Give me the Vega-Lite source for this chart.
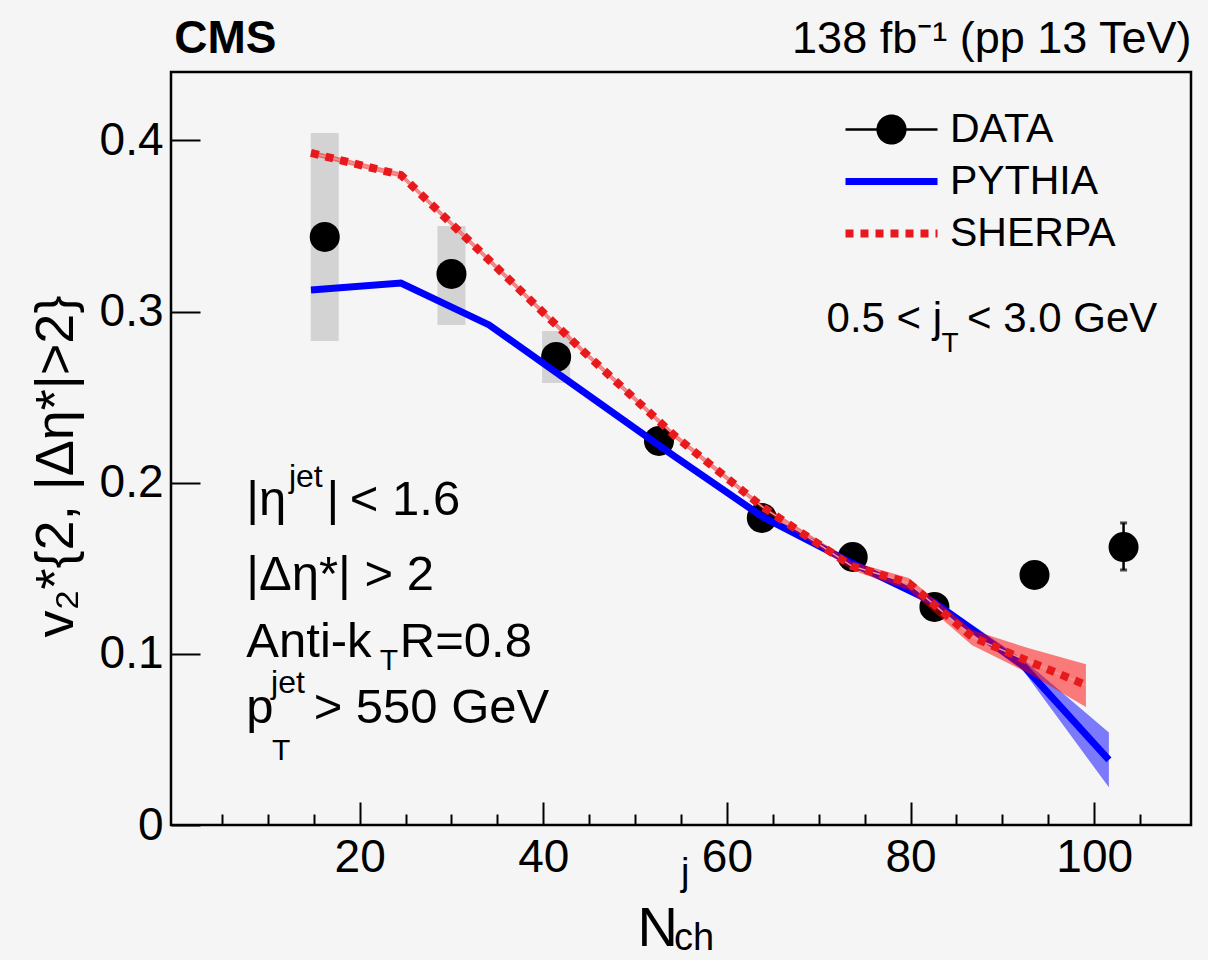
{
  "$schema": "https://vega.github.io/schema/vega-lite/v6.json",
  "width": 1020,
  "height": 753,
  "autosize": {"type": "none"},
  "padding": {"left": 171, "top": 72, "right": 17, "bottom": 135},
  "background": "#f5f5f5",
  "config": {
    "view": {"stroke": "black", "strokeWidth": 2.5, "fill": "#f5f5f5"},
    "font": "Liberation Sans",
    "axis": {"domain": false, "grid": false, "labelFont": "Liberation Sans", "labelColor": "black", "tickColor": "black", "tickWidth": 2, "labelFontSize": 46, "labelFlush": false, "labelOverlap": false, "labelBound": false}
  },
  "datasets": {
    "pts": [
      {"nch": 16.2, "v2": 0.3436, "sys_lo": 0.2828, "sys_hi": 0.4043},
      {"nch": 30.0, "v2": 0.3220, "sys_lo": 0.2922, "sys_hi": 0.3500},
      {"nch": 41.4, "v2": 0.2735, "sys_lo": 0.2583, "sys_hi": 0.2887},
      {"nch": 52.6, "v2": 0.2244, "sys_lo": null, "sys_hi": null},
      {"nch": 63.8, "v2": 0.1794, "sys_lo": null, "sys_hi": null},
      {"nch": 73.7, "v2": 0.1566, "sys_lo": null, "sys_hi": null},
      {"nch": 82.6, "v2": 0.1274, "sys_lo": null, "sys_hi": null},
      {"nch": 93.5, "v2": 0.1461, "sys_lo": null, "sys_hi": null},
      {"nch": 103.2, "v2": 0.1624, "sys_lo": null, "sys_hi": null}
    ],
    "stat": [
      {"nch": 103.2, "lo": 0.149, "hi": 0.1765}
    ],
    "pythia": [
      {"nch": 14.7, "v2": 0.3126, "lo": 0.3111, "hi": 0.3141},
      {"nch": 24.5, "v2": 0.3167, "lo": 0.3152, "hi": 0.3182},
      {"nch": 34.1, "v2": 0.2922, "lo": 0.2907, "hi": 0.2937},
      {"nch": 44.2, "v2": 0.2538, "lo": 0.2523, "hi": 0.2553},
      {"nch": 54.3, "v2": 0.2154, "lo": 0.2139, "hi": 0.2169},
      {"nch": 63.9, "v2": 0.1800, "lo": 0.1785, "hi": 0.1815},
      {"nch": 73.6, "v2": 0.1531, "lo": 0.1515, "hi": 0.1547},
      {"nch": 82.6, "v2": 0.1300, "lo": 0.1280, "hi": 0.1320},
      {"nch": 92.3, "v2": 0.0930, "lo": 0.0900, "hi": 0.0965},
      {"nch": 101.6, "v2": 0.0380, "lo": 0.0220, "hi": 0.0540}
    ],
    "sherpa": [
      {"nch": 14.7, "v2": 0.3927, "lo": 0.3912, "hi": 0.3942},
      {"nch": 24.5, "v2": 0.3798, "lo": 0.3783, "hi": 0.3813},
      {"nch": 34.1, "v2": 0.3301, "lo": 0.3286, "hi": 0.3316},
      {"nch": 44.2, "v2": 0.2776, "lo": 0.2761, "hi": 0.2791},
      {"nch": 54.3, "v2": 0.2275, "lo": 0.2260, "hi": 0.2290},
      {"nch": 63.9, "v2": 0.1858, "lo": 0.1843, "hi": 0.1873},
      {"nch": 73.6, "v2": 0.1513, "lo": 0.1490, "hi": 0.1540},
      {"nch": 79.8, "v2": 0.1414, "lo": 0.1373, "hi": 0.1443},
      {"nch": 86.7, "v2": 0.1099, "lo": 0.1050, "hi": 0.1140},
      {"nch": 92.8, "v2": 0.0958, "lo": 0.0888, "hi": 0.1034},
      {"nch": 99.1, "v2": 0.0818, "lo": 0.0690, "hi": 0.0940}
    ]
  },
  "layer": [
    {
      "data": {"name": "pts"},
      "mark": {"type": "bar", "width": 28, "color": "#d3d3d3"},
      "encoding": {
        "x": {"field": "nch", "type": "quantitative", "title": null},
        "y": {"field": "sys_lo", "type": "quantitative", "title": "v₂*{2, |Δη*|>2}"},
        "y2": {"field": "sys_hi"}
      }
    },
    {
      "data": {"name": "pts"},
      "mark": {"type": "point", "filled": true, "size": 900, "opacity": 1, "shape": "circle"},
      "encoding": {
        "x": {
          "field": "nch", "type": "quantitative", "title": null,
          "scale": {"domain": [0, 110], "nice": false, "zero": false},
          "axis": {
            "title": null,
            "values": [5, 10, 15, 20, 25, 30, 35, 40, 45, 50, 55, 60, 65, 70, 75, 80, 85, 90, 95, 100, 105],
            "tickSize": {"condition": {"test": "datum.value % 20 === 0", "value": -23}, "value": -11},
            "labelExpr": "datum.value % 20 === 0 ? datum.label : ''",
            "labelPadding": 33,
            "labelBaseline": "top"
          }
        },
        "y": {
          "field": "v2", "type": "quantitative", "title": "v₂*{2, |Δη*|>2}",
          "scale": {"domain": [0, 0.44], "nice": false, "zero": false},
          "axis": {
            "title": "v₂*{2, |Δη*|>2}",
            "values": [0, 0.1, 0.2, 0.3, 0.4],
            "tickSize": -29,
            "labelPadding": 37,
            "labelExpr": "datum.value === 0 ? '0' : format(datum.value, '.1f')",
            "titleFont": "Liberation Sans",
            "titleFontSize": 54,
            "titleFontWeight": "normal",
            "titleColor": "black",
            "titleAngle": -90,
            "titleBaseline": "alphabetic",
            "titleAlign": "center",
            "titleX": -99,
            "titleY": 394
          }
        },
        "color": {
          "datum": "DATA", "type": "nominal",
          "scale": {"domain": ["DATA", "PYTHIA", "SHERPA"], "range": ["#000000", "#0000ff", "#e8191c"]},
          "legend": {
            "title": null,
            "orient": "none",
            "legendX": 700,
            "legendY": 37,
            "direction": "vertical",
            "padding": 0,
            "rowPadding": 10,
            "symbolSize": 8464,
            "symbolType": {"expr": "datum.value === 'DATA' ? 'M-1,0H1M-0.3,0A0.3,0.3,0,1,1,0.3,0A0.3,0.3,0,1,1,-0.3,0Z' : 'stroke'"},
            "symbolStrokeColor": {"expr": "datum.value === 'DATA' ? '#000000' : datum.value === 'PYTHIA' ? '#0000ff' : '#e8191c'"},
            "symbolStrokeWidth": {"expr": "datum.value === 'DATA' ? 2.5 : datum.value === 'PYTHIA' ? 7 : 8"},
            "symbolDash": {"expr": "datum.value === 'SHERPA' ? [8, 7] : [1, 0]"},
            "symbolOpacity": 1,
            "labelFont": "Liberation Sans",
            "labelFontSize": 41,
            "labelColor": "black",
            "labelOffset": 38,
            "labelLimit": 400,
            "labelBaseline": "middle"
          }
        }
      }
    },
    {
      "data": {"name": "stat"},
      "mark": {"type": "errorbar", "color": "black", "thickness": 2.5, "ticks": {"size": 7, "thickness": 3, "color": "black"}},
      "encoding": {
        "x": {"field": "nch", "type": "quantitative", "title": null},
        "y": {"field": "lo", "type": "quantitative", "title": "v₂*{2, |Δη*|>2}"},
        "y2": {"field": "hi"}
      }
    },
    {
      "data": {"name": "pythia"},
      "mark": {"type": "area", "color": "#0000ff", "opacity": 0.5},
      "encoding": {
        "x": {"field": "nch", "type": "quantitative", "title": null},
        "y": {"field": "lo", "type": "quantitative", "title": "v₂*{2, |Δη*|>2}"},
        "y2": {"field": "hi"}
      }
    },
    {
      "data": {"name": "pythia"},
      "mark": {"type": "line", "strokeWidth": 7},
      "encoding": {
        "x": {"field": "nch", "type": "quantitative", "title": null},
        "y": {"field": "v2", "type": "quantitative", "title": "v₂*{2, |Δη*|>2}"},
        "color": {"datum": "PYTHIA", "type": "nominal"}
      }
    },
    {
      "data": {"name": "sherpa"},
      "mark": {"type": "area", "color": "#ff0000", "opacity": 0.5},
      "encoding": {
        "x": {"field": "nch", "type": "quantitative", "title": null},
        "y": {"field": "lo", "type": "quantitative", "title": "v₂*{2, |Δη*|>2}"},
        "y2": {"field": "hi"}
      }
    },
    {
      "data": {"name": "sherpa"},
      "mark": {"type": "line", "strokeWidth": 1.5, "color": "#f09090"},
      "encoding": {
        "x": {"field": "nch", "type": "quantitative", "title": null},
        "y": {"field": "v2", "type": "quantitative", "title": "v₂*{2, |Δη*|>2}"}
      }
    },
    {
      "data": {"name": "sherpa"},
      "mark": {"type": "line", "strokeWidth": 8, "strokeDash": [8, 7], "strokeCap": "butt"},
      "encoding": {
        "x": {"field": "nch", "type": "quantitative", "title": null},
        "y": {"field": "v2", "type": "quantitative", "title": "v₂*{2, |Δη*|>2}"},
        "color": {"datum": "SHERPA", "type": "nominal"}
      }
    },
    {
      "data": {"values": [{}]},
      "mark": {"type": "text", "text": "CMS", "font": "Liberation Sans", "fontWeight": "bold", "fontSize": 46, "align": "left", "baseline": "alphabetic", "color": "black"},
      "encoding": {"x": {"datum": -0.2}, "y": {"datum": 0.4511}}
    },
    {
      "data": {"values": [{}]},
      "mark": {"type": "text", "text": "138 fb⁻¹ (pp 13 TeV)", "font": "Liberation Sans", "fontSize": 45, "align": "right", "baseline": "alphabetic", "color": "black"},
      "encoding": {"x": {"datum": 110.6}, "y": {"datum": 0.4511}}
    },
    {
      "data": {"values": [{}]},
      "mark": {"type": "text", "text": "0.5 < j", "font": "Liberation Sans", "fontSize": 42, "align": "left", "baseline": "alphabetic", "color": "black"},
      "encoding": {"x": {"datum": 70.85}, "y": {"datum": 0.2881}}
    },
    {
      "data": {"values": [{}]},
      "mark": {"type": "text", "text": "T", "font": "Liberation Sans", "fontSize": 28, "align": "left", "baseline": "alphabetic", "color": "black"},
      "encoding": {"x": {"datum": 83.36}, "y": {"datum": 0.2764}}
    },
    {
      "data": {"values": [{}]},
      "mark": {"type": "text", "text": "< 3.0 GeV", "font": "Liberation Sans", "fontSize": 42, "align": "right", "baseline": "alphabetic", "color": "black"},
      "encoding": {"x": {"datum": 106.87}, "y": {"datum": 0.2881}}
    },
    {
      "data": {"values": [{}]},
      "mark": {"type": "text", "text": "|η", "font": "Liberation Sans", "fontSize": 49, "align": "left", "baseline": "alphabetic", "color": "black"},
      "encoding": {"x": {"datum": 7.66}, "y": {"datum": 0.1811}}
    },
    {
      "data": {"values": [{}]},
      "mark": {"type": "text", "text": "jet", "font": "Liberation Sans", "fontSize": 32, "align": "left", "baseline": "alphabetic", "color": "black"},
      "encoding": {"x": {"datum": 12.3}, "y": {"datum": 0.1975}}
    },
    {
      "data": {"values": [{}]},
      "mark": {"type": "text", "text": "|", "font": "Liberation Sans", "fontSize": 49, "align": "left", "baseline": "alphabetic", "color": "black"},
      "encoding": {"x": {"datum": 16.4}, "y": {"datum": 0.1811}}
    },
    {
      "data": {"values": [{}]},
      "mark": {"type": "text", "text": "< 1.6", "font": "Liberation Sans", "fontSize": 49, "align": "right", "baseline": "alphabetic", "color": "black"},
      "encoding": {"x": {"datum": 30.95}, "y": {"datum": 0.1811}}
    },
    {
      "data": {"values": [{}]},
      "mark": {"type": "text", "text": "|Δη*| > 2", "font": "Liberation Sans", "fontSize": 49, "align": "left", "baseline": "alphabetic", "color": "black"},
      "encoding": {"x": {"datum": 7.66}, "y": {"datum": 0.1373}}
    },
    {
      "data": {"values": [{}]},
      "mark": {"type": "text", "text": "Anti-k", "font": "Liberation Sans", "fontSize": 49, "align": "left", "baseline": "alphabetic", "color": "black"},
      "encoding": {"x": {"datum": 7.66}, "y": {"datum": 0.0982}}
    },
    {
      "data": {"values": [{}]},
      "mark": {"type": "text", "text": "T", "font": "Liberation Sans", "fontSize": 30, "align": "left", "baseline": "alphabetic", "color": "black"},
      "encoding": {"x": {"datum": 22.2}, "y": {"datum": 0.0906}}
    },
    {
      "data": {"values": [{}]},
      "mark": {"type": "text", "text": "R=0.8", "font": "Liberation Sans", "fontSize": 49, "align": "left", "baseline": "alphabetic", "color": "black"},
      "encoding": {"x": {"datum": 24.37}, "y": {"datum": 0.0982}}
    },
    {
      "data": {"values": [{}]},
      "mark": {"type": "text", "text": "p", "font": "Liberation Sans", "fontSize": 49, "align": "left", "baseline": "alphabetic", "color": "black"},
      "encoding": {"x": {"datum": 7.66}, "y": {"datum": 0.0596}}
    },
    {
      "data": {"values": [{}]},
      "mark": {"type": "text", "text": "jet", "font": "Liberation Sans", "fontSize": 32, "align": "left", "baseline": "alphabetic", "color": "black"},
      "encoding": {"x": {"datum": 10.35}, "y": {"datum": 0.0771}}
    },
    {
      "data": {"values": [{}]},
      "mark": {"type": "text", "text": "T", "font": "Liberation Sans", "fontSize": 30, "align": "left", "baseline": "alphabetic", "color": "black"},
      "encoding": {"x": {"datum": 10.46}, "y": {"datum": 0.038}}
    },
    {
      "data": {"values": [{}]},
      "mark": {"type": "text", "text": "> 550 GeV", "font": "Liberation Sans", "fontSize": 49, "align": "left", "baseline": "alphabetic", "color": "black"},
      "encoding": {"x": {"datum": 14.99}, "y": {"datum": 0.0596}}
    },
    {
      "data": {"values": [{}]},
      "mark": {"type": "text", "text": "N", "font": "Liberation Sans", "fontSize": 56, "align": "left", "baseline": "alphabetic", "color": "black"},
      "encoding": {"x": {"datum": 50.26}, "y": {"datum": -0.0707}}
    },
    {
      "data": {"values": [{}]},
      "mark": {"type": "text", "text": "j", "font": "Liberation Sans", "fontSize": 38, "align": "left", "baseline": "alphabetic", "color": "black"},
      "encoding": {"x": {"datum": 55.0}, "y": {"datum": -0.0351}}
    },
    {
      "data": {"values": [{}]},
      "mark": {"type": "text", "text": "ch", "font": "Liberation Sans", "fontSize": 38, "align": "left", "baseline": "alphabetic", "color": "black"},
      "encoding": {"x": {"datum": 54.25}, "y": {"datum": -0.073}}
    }
  ]
}
